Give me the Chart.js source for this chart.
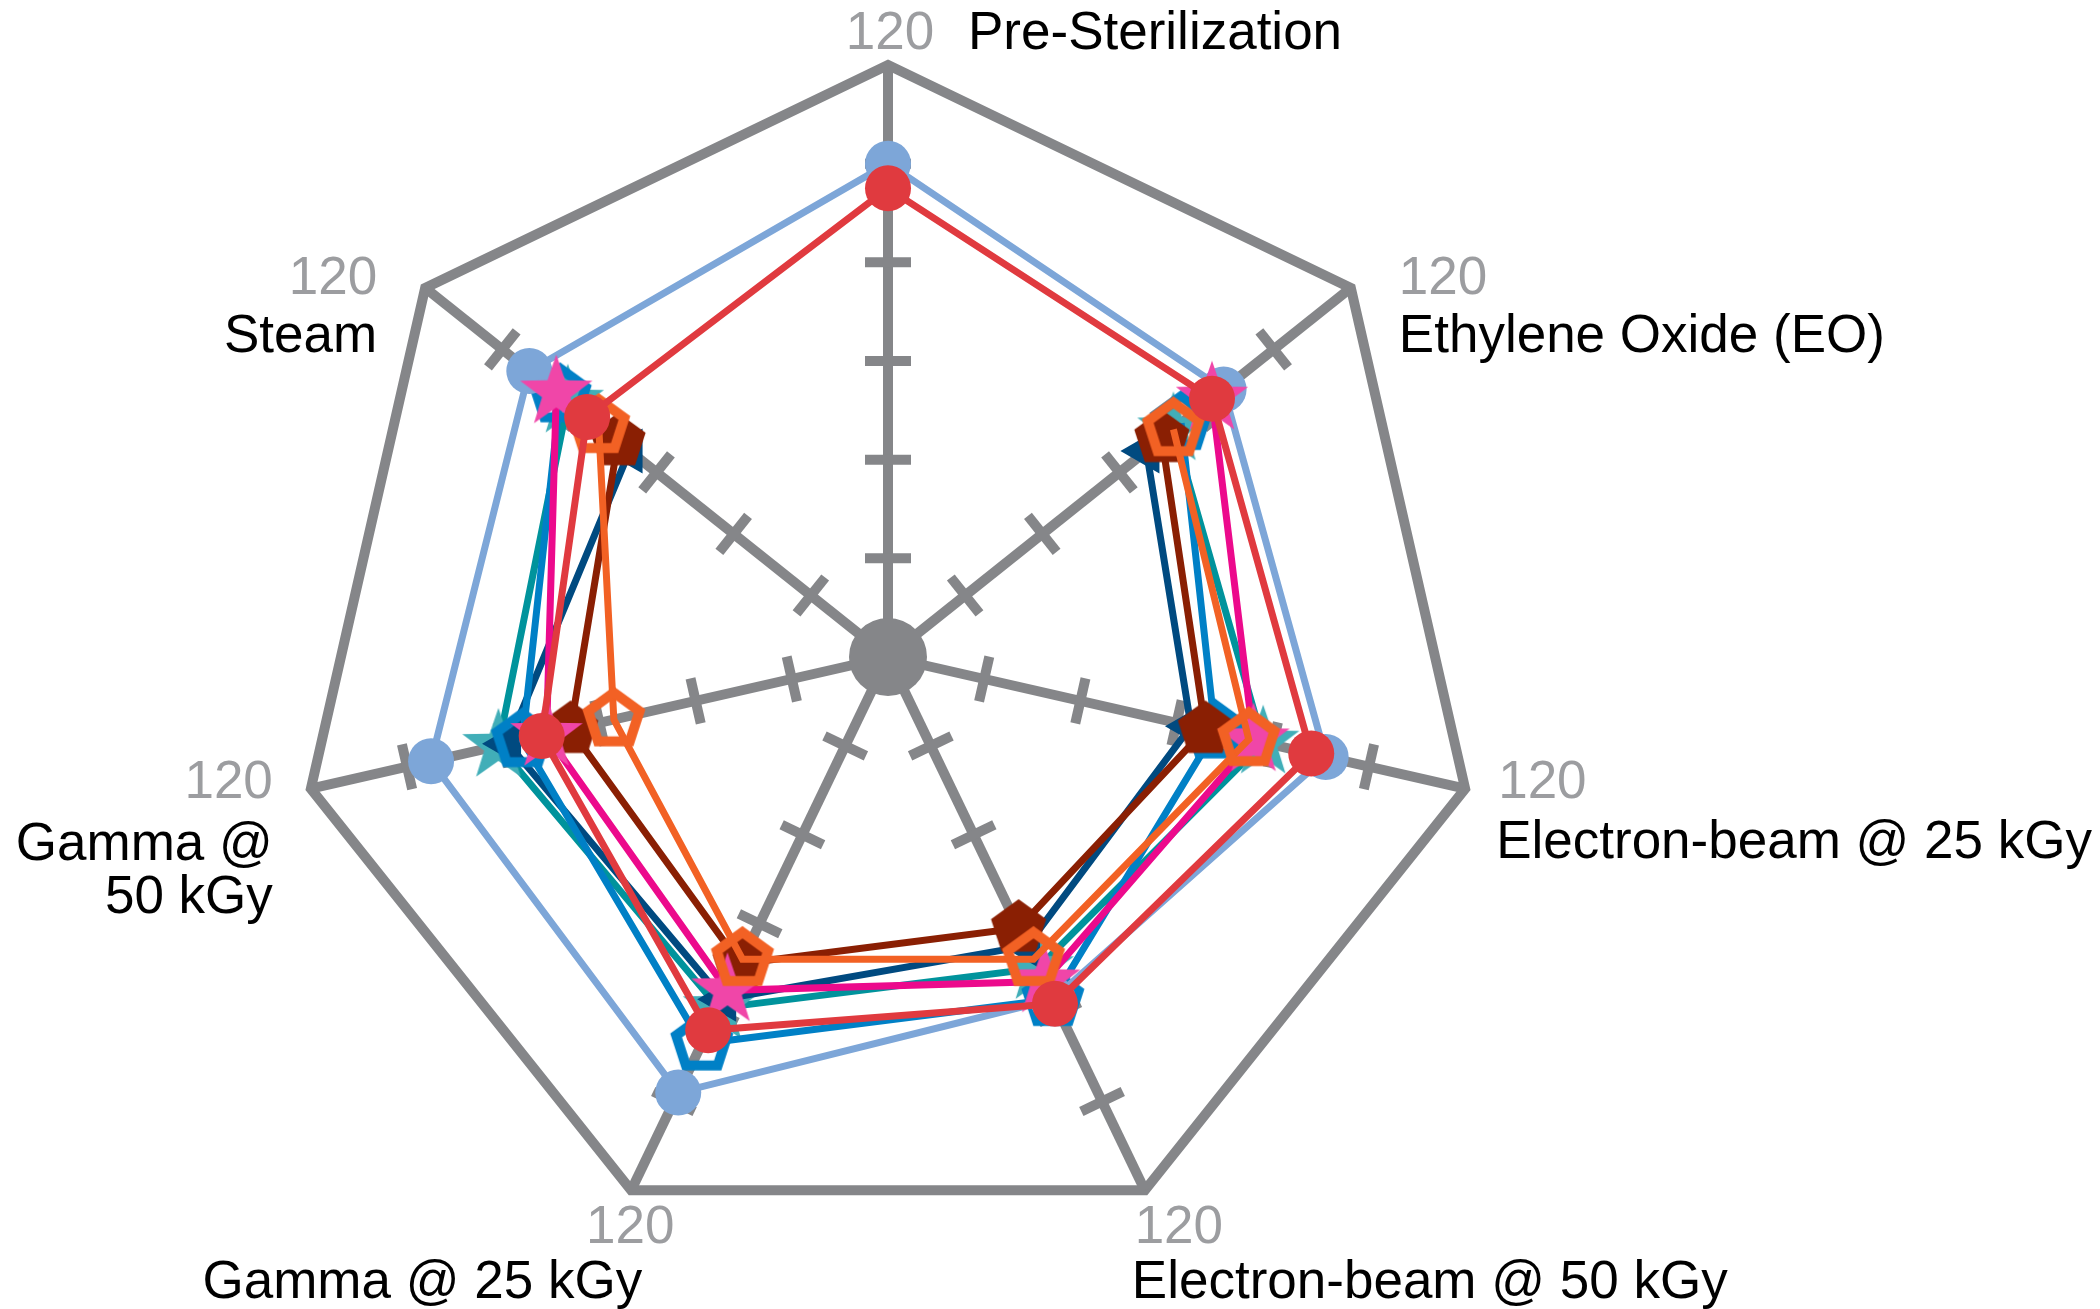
<!DOCTYPE html>
<html>
<head>
<meta charset="utf-8">
<script src="https://cdn.jsdelivr.net/npm/chart.js@4.4.0/dist/chart.umd.min.js"></script>
<style>
  html, body { margin: 0; padding: 0; background: #fff; }
  #wrap { width: 2100px; height: 1309px; }
</style>
</head>
<body>
<div id="wrap"><canvas id="myChart"></canvas></div>
<script>
// axes, clockwise from the top
var categories = ['Pre-Sterilization', 'Ethylene Oxide (EO)', 'Electron-beam @ 25 kGy',
                  'Electron-beam @ 50 kGy', 'Gamma @ 25 kGy', ['Gamma @', '50 kGy'], 'Steam'];
var tickValues = [20, 40, 60, 80, 100];
var maxValue = 120;

// series (null = not measured)
var redValues       = [95, 84, 88, 78, 84, 72, 78];
var orangeValues    = [null, 74, 75, 68, 68, 57, 75];
var magentaValues   = [null, 84, 76, 73, 75, 71, 86];
var lightBlueValues = [100, 87, 91, 77, 98, 95, 93];
var brownValues     = [null, 71, 66, 61, 69, 66, 70];
var blueValues      = [null, 76, 68, 77, 87, 76, 85];
var navyValues      = [null, 67, 63, 65, 77, 79, 67];
var tealValues      = [null, 74, 78, 70, 79, 81, 83];

var grey = '#858689';
var numGrey = '#9c9da0';
var labelFont = '53px "Liberation Sans", Arial, sans-serif';

function starImg(color, outer, inner) {
    var c = document.createElement('canvas');
    c.width = c.height = Math.ceil(outer * 2 + 4);
    var g = c.getContext('2d');
    g.translate(c.width / 2, c.height / 2);
    g.beginPath();
    for (var k = 0; k < 10; k++) {
        var rr = k % 2 === 0 ? outer : inner;
        var a = -Math.PI / 2 + k * Math.PI / 5;
        g.lineTo(rr * Math.cos(a), rr * Math.sin(a));
    }
    g.closePath();
    g.fillStyle = color;
    g.fill();
    return c;
}

function pentagonImg(color, radius, lineWidth) {
    var c = document.createElement('canvas');
    c.width = c.height = Math.ceil(radius * 2 + lineWidth * 2 + 4);
    var g = c.getContext('2d');
    g.translate(c.width / 2, c.height / 2);
    g.beginPath();
    for (var k = 0; k < 5; k++) {
        var a = -Math.PI / 2 + k * 2 * Math.PI / 5;
        g.lineTo(radius * Math.cos(a), radius * Math.sin(a));
    }
    g.closePath();
    if (lineWidth > 0) {
        g.strokeStyle = color;
        g.lineWidth = lineWidth;
        g.lineJoin = 'miter';
        g.stroke();
    } else {
        g.fillStyle = color;
        g.fill();
    }
    return c;
}

// where the "120" and the axis name sit, relative to each outer vertex
var labelSpots = [
    { num: [2, -31, 'center'],   name: [80, -31, 'left'] },
    { num: [48, -9, 'left'],     name: [48, 49, 'left'] },
    { num: [33, -5, 'left'],     name: [31, 55, 'left'] },
    { num: [34, 38, 'center'],   name: [-13, 93, 'left'] },
    { num: [-1, 38, 'center'],   name: [11, 93, 'right'] },
    { num: [-38, -5, 'right'],   name: [-38, 57, 'right'] },
    { num: [-48, -9, 'right'],   name: [-48, 49, 'right'] }
];

var axisDecor = {
    id: 'axisDecor',
    beforeDatasetsDraw: function(chart) {
        var scale = chart.scales.r;
        var ctx = chart.ctx;
        ctx.save();
        ctx.strokeStyle = grey;
        ctx.lineWidth = 10;
        for (var i = 0; i < categories.length; i++) {
            var a = scale.getIndexAngle(i) - Math.PI / 2;
            var nx = -Math.sin(a), ny = Math.cos(a);
            tickValues.forEach(function(v) {
                var p = scale.getPointPositionForValue(i, v);
                ctx.beginPath();
                ctx.moveTo(p.x - nx * 23, p.y - ny * 23);
                ctx.lineTo(p.x + nx * 23, p.y + ny * 23);
                ctx.stroke();
            });
        }
        ctx.fillStyle = grey;
        ctx.beginPath();
        ctx.arc(scale.xCenter, scale.yCenter, 39, 0, Math.PI * 2);
        ctx.fill();
        ctx.restore();
    },
    afterDatasetsDraw: function(chart) {
        var scale = chart.scales.r;
        var ctx = chart.ctx;
        ctx.save();
        ctx.font = labelFont;
        ctx.textBaseline = 'middle';
        for (var i = 0; i < categories.length; i++) {
            var v = scale.getPointPositionForValue(i, maxValue);
            var s = labelSpots[i];
            ctx.fillStyle = numGrey;
            ctx.textAlign = s.num[2];
            ctx.fillText(String(maxValue), v.x + s.num[0], v.y + s.num[1]);
            ctx.fillStyle = '#000';
            ctx.textAlign = s.name[2];
            var lines = [].concat(categories[i]);
            for (var k = 0; k < lines.length; k++) {
                ctx.fillText(lines[k], v.x + s.name[0], v.y + s.name[1] + k * 53);
            }
        }
        ctx.restore();
    }
};

function series(values, color, extra) {
    var ds = {
        data: values,
        borderColor: color,
        borderWidth: 7,
        fill: false,
        tension: 0,
        pointRadius: 23,
        pointBorderWidth: 0,
        pointBackgroundColor: color,
        pointBorderColor: color,
        pointStyle: 'circle'
    };
    for (var k in extra) ds[k] = extra[k];
    return ds;
}

var ctx = document.getElementById('myChart').getContext('2d');
var myChart = new Chart(ctx, {
    type: 'radar',
    data: {
        labels: categories,
        datasets: [
            series(redValues, '#e03a3f'),
            series(orangeValues, '#f26124', { pointStyle: pentagonImg('#f26124', 27, 10) }),
            series(magentaValues, '#ec0a8c', { pointStyle: starImg('#f046a8', 38, 15) }),
            series(lightBlueValues, '#7da6d8'),
            series(brownValues, '#8a1f03', { pointStyle: pentagonImg('#8a1f03', 29, 0) }),
            series(blueValues, '#0080c6', { pointStyle: pentagonImg('#0080c6', 27, 10) }),
            series(navyValues, '#004a80', { pointStyle: 'triangle', pointRadius: 26, rotation: -90 }),
            series(tealValues, '#00939c', { pointStyle: starImg('#41aeb8', 38, 15) })
        ]
    },
    options: {
        responsive: true,
        maintainAspectRatio: false,
        devicePixelRatio: 1,
        animation: false,
        events: [],
        layout: { padding: { left: 296, right: 620, top: 65, bottom: 60 } },
        plugins: {
            legend: { display: false },
            tooltip: { enabled: false }
        },
        scales: {
            r: {
                min: 0,
                max: maxValue,
                ticks: { display: false, stepSize: maxValue },
                grid: { color: grey, lineWidth: 10 },
                angleLines: { color: grey, lineWidth: 10 },
                pointLabels: { display: false }
            }
        }
    },
    plugins: [axisDecor]
});
</script>
</body>
</html>
